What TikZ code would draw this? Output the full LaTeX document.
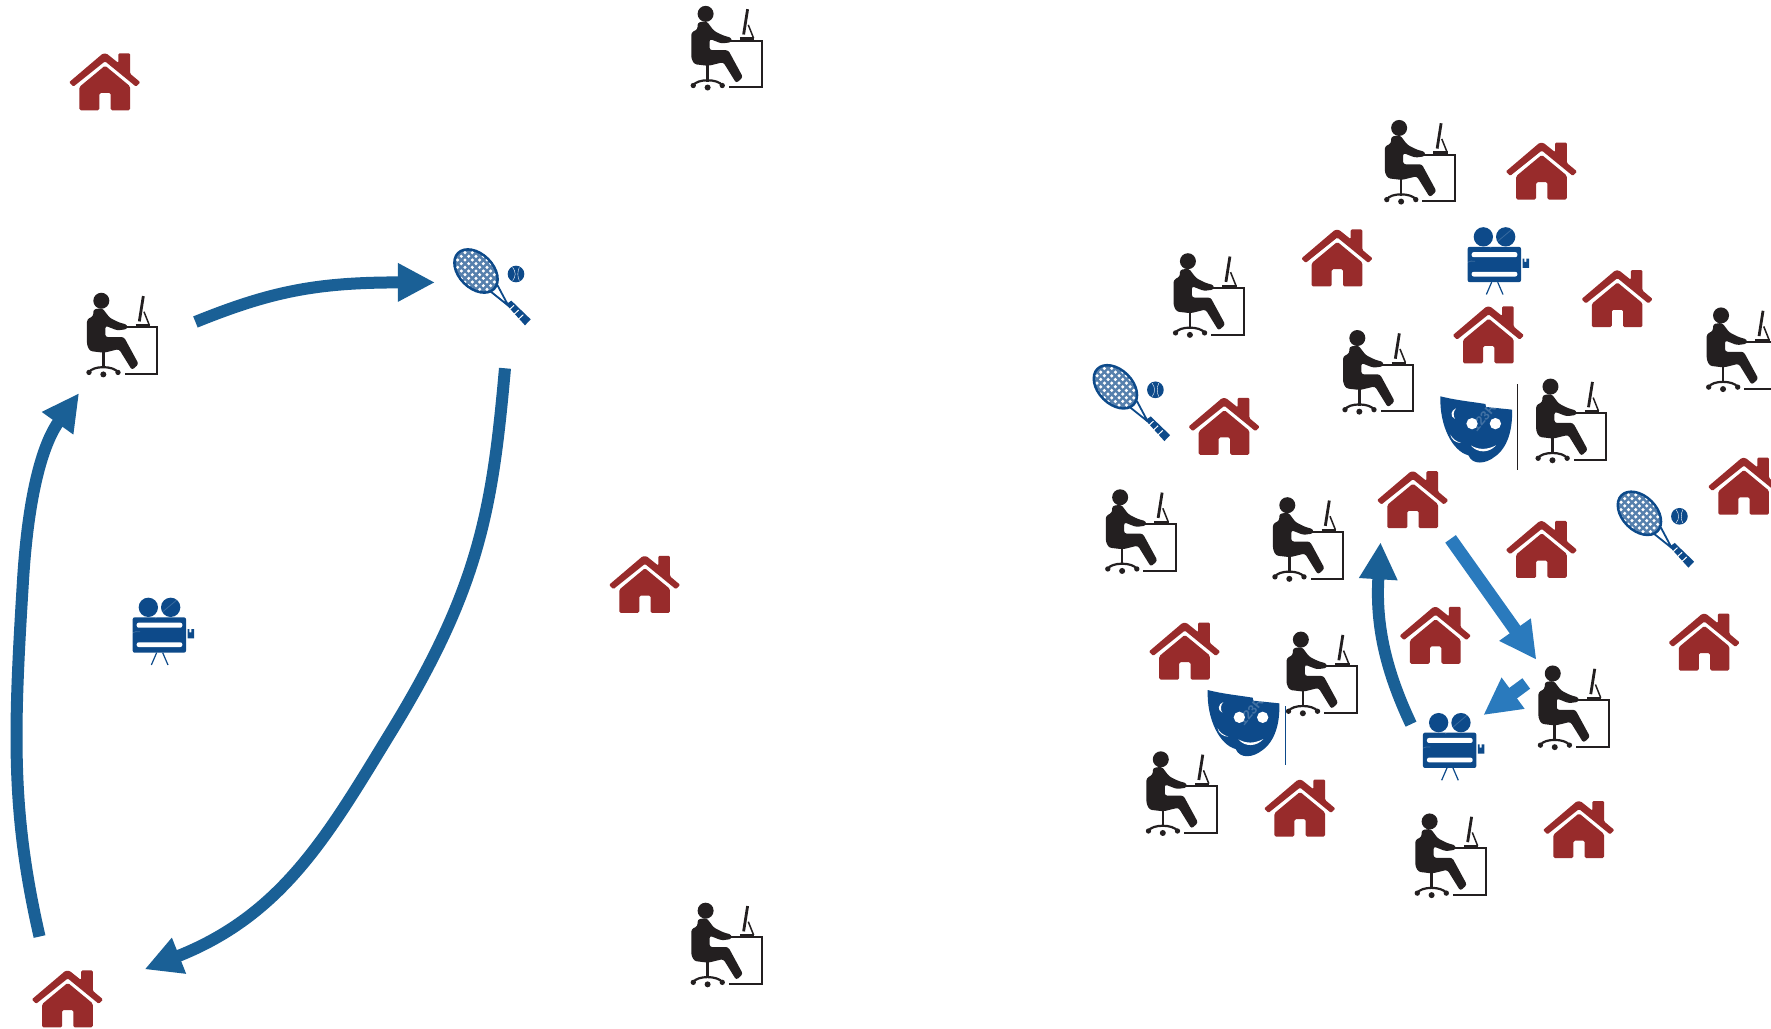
\documentclass[tikz,border=0pt]{standalone}
\usepackage{fontspec}
\setmainfont{Liberation Sans}
\usetikzlibrary{arrows.meta}
\definecolor{housered}{HTML}{982B2B}
\definecolor{ink}{HTML}{231F20}
\definecolor{deepblue}{HTML}{0D4A8A}
\definecolor{arrowdark}{HTML}{1A6096}
\definecolor{arrowlight}{HTML}{2A7ABD}
\tikzset{
  darkarrow/.style={draw=arrowdark,line width=12pt,-{Triangle[length=37pt,width=36pt,fill=arrowdark]}},
  lightarrow/.style={draw=arrowlight,line width=13pt,-{Triangle[length=37pt,width=36pt,fill=arrowlight]}},
  pics/house/.style={code={
    \begin{scope}[scale=1/3]
      \coordinate (-c) at (165,125);
      \fill[housered,rounded corners=1.2pt] (57,128)--(158,42)--(170,42)--(205,70)--(205,41)--(240,41)--(240,102)--(271,128)--(258,141)--(165,65)--(70,141)--cycle;
      \fill[housered,rounded corners=1.5pt] (165,78)--(240,140)--(240,212)--(182,212)--(182,160)--(148,160)--(148,212)--(88,212)--(88,142)--cycle;
    \end{scope}}},
  pics/person/.style={code={
    \begin{scope}[scale=1/3]
      \coordinate (-c) at (186,165);
      \fill[ink] (122,62) circle[radius=24];
      \fill[ink,rounded corners=2.5pt] (98,88)--(125,84)--(147,113)--(175,127)--(200,134)--(200,147)--(170,151)--(134,137)--(134,171)--(190,171)--(234,252)--(214,270)--(175,207)--(130,218)--(88,213)--(79,195)--(79,118)--(98,108)--cycle;
      \draw[ink,line width=2.6pt] (128,215)--(128,265);
      \draw[ink,line width=2.2pt] (85,277) .. controls (95,256) and (160,256) .. (172,277);
      \fill[ink] (85,277) circle[radius=8] (128,283) circle[radius=9] (172,277) circle[radius=8];
      \draw[ink,line width=2pt] (175,142)--(290,142)--(290,282)--(192,282);
      \draw[ink,line width=2.8pt] (248,48)--(236,124);
      \draw[ink,line width=1.5pt] (250,95)--(266,135);
      \draw[ink,line width=2.2pt] (225,136)--(268,136);
    \end{scope}}},
  pics/racket/.style={code={
    \begin{scope}[scale=1/3]
      \coordinate (-c) at (150,150);
      \fill[deepblue,rotate around={-45:(108,108)}] (108,108) ellipse[x radius=80,y radius=55];
      \begin{scope}
        \clip[rotate around={-45:(108,108)}] (108,108) ellipse[x radius=72,y radius=47];
        \fill[deepblue!70!white] (0,0) rectangle (220,220);
        \foreach \i in {-7,...,7}{\foreach \j in {-7,...,7}{
          \fill[white] ({108+11*(\i-\j)},{108+11*(\i+\j)}) circle[radius=5.2];
        }}
      \end{scope}
      \draw[deepblue,line width=1.8pt] (150,168)--(205,212) (172,150)--(205,212);
      \fill[deepblue] (198,208)--(214,197)--(272,253)--(255,271)--cycle;
      \draw[white,line width=1pt] (222,211)--(208,224) (236,225)--(222,238) (250,239)--(236,252);
      \fill[deepblue] (228,117) circle[radius=25];
      \draw[white,line width=.4pt] (218,97) .. controls (228,110) and (228,125) .. (218,137) (238,97) .. controls (232,110) and (232,125) .. (238,137);
    \end{scope}}},
  pics/camera/.style={code={
    \begin{scope}[scale=1/3]
      \coordinate (-c) at (115,140);
      \fill[deepblue] (85,67) circle[radius=29] (152,67) circle[radius=29];
      \fill[deepblue,rounded corners=2pt] (38,97) rectangle (198,203);
      \fill[white,rounded corners=2pt] (50,113) rectangle (187,128);
      \fill[white,rounded corners=2pt] (50,172) rectangle (187,186);
      \fill[deepblue] (203,132)--(208,132)--(208,142)--(214,142)--(214,132)--(222,132)--(222,160)--(203,160)--cycle;
      \draw[deepblue,line width=1.2pt] (110,203)--(94,240) (128,203)--(144,240);
      \draw[white,opacity=.18,line width=.8pt] (60,140) .. controls (25,135) and (15,170) .. (30,200) .. controls (30,225) and (50,240) .. (70,225) (105,100)--(170,45);
    \end{scope}}},
  pics/mask/.style={code={
    \begin{scope}[scale=1/3]
      \coordinate (-c) at (160,125);
      \fill[deepblue] (53,30) .. controls (100,42) and (145,46) .. (188,53) -- (190,62) -- (268,70)
        .. controls (270,130) and (255,185) .. (215,212)
        .. controls (190,232) and (150,238) .. (137,207)
        .. controls (90,195) and (50,120) .. cycle;
      \fill[white] (100,66) .. controls (85,72) and (80,90) .. (97,98) .. controls (90,88) and (92,75) .. (100,66) -- cycle;
      \fill[white] (148,112) circle[radius=17] (218,112) circle[radius=17];
      \fill[white] (83,145) .. controls (90,158) and (100,165) .. (115,170) .. controls (100,170) and (85,160) .. (83,145) -- cycle;
      \fill[white] (145,178) .. controls (170,192) and (195,190) .. (220,177) .. controls (200,200) and (165,202) .. (145,178) -- cycle;
      \node[white,opacity=.22,rotate=50,font=\bfseries\fontsize{13}{13}\selectfont,inner sep=0pt] at (190,85) {123RF};
    \end{scope}}}
}
\begin{document}
\begin{tikzpicture}[x=1pt,y=-1pt]
\useasboundingbox (0,0) rectangle (1771,1028);
\fill[white] (0,0) rectangle (1771,1028);
% houses (positions in the 1568-wide view)
\foreach \n/\x/\y in {1/93/72,2/571/517,3/60/884,4/1365/151,5/1184/228,6/1432/264,7/1318/296,8/1084/377,9/1251/442,10/1544/430,11/1365/486,12/1271/562,13/1509/568,14/1049/576,15/1151/715,16/1398/734}{
  \pic (house\n) at ({\x*1.1295-55},{\y*1.1295-41.7}) {house};
}
% persons (head position)
\foreach \n/\x/\y in {1/625/13,2/90/267,3/625/807,4/1239/114,5/1052/232,6/1202/300,7/1373/343,8/1524/280,9/992/441,10/1140/448,11/1152/567,12/1375/597,13/1028/673,14/1266/728}{
  \pic (person\n) at ({\x*1.1295-41},{\y*1.1295-21.5}) {person};
}
\pic (racket1) at (440,235) {racket};
\pic (racket2) at (1079.4,350.8) {racket};
\pic (racket3) at (1603.4,477.3) {racket};
\pic (camera1) at (120,585) {camera};
\pic (camera2) at (1410.3,700.3) {camera};
\pic (camera3) at (1455,214.5) {camera};
\pic (mask1) at (1190,680) {mask};
\pic (mask2) at (1422.7,386.3) {mask};
\coordinate (bar1a) at (1285,706);
\coordinate (bar1b) at (1285,765);
\coordinate (bar2a) at (1517,384);
\coordinate (bar2b) at (1517,470);
\draw[deepblue,line width=1pt] (bar1a)--(bar1b);
\draw[ink,line width=1pt] (bar2a)--(bar2b);
% arrows
\begin{scope}[scale=1.1295]
\coordinate (a1s) at (173,285);
\coordinate (a1e) at (385,250);
\coordinate (a2s) at (447,326);
\coordinate (a2e) at (128,858);
\coordinate (a3s) at (35,829);
\coordinate (a3e) at (70,348);
\coordinate (a4s) at (1249,641);
\coordinate (a4e) at (1222,480);
\coordinate (a5s) at (1284,477);
\coordinate (a5e) at (1360,584);
\coordinate (a6s) at (1351,605);
\coordinate (a6e) at (1313,633);
\draw[darkarrow] (a1s) .. controls (240,258) and (280,250) .. (a1e);
\draw[darkarrow] (a2s) .. controls (436,450) and (425,520) .. (345,650) .. controls (290,740) and (250,810) .. (a2e);
\draw[darkarrow] (a3s) .. controls (10,720) and (12,650) .. (20,520) .. controls (25,430) and (40,390) .. (a3e);
\draw[darkarrow] (a4s) .. controls (1225,590) and (1218,550) .. (a4e);
\draw[lightarrow] (a5s) -- (a5e);
\draw[lightarrow] (a6s) -- (a6e);
\end{scope}
\end{tikzpicture}
\end{document}
